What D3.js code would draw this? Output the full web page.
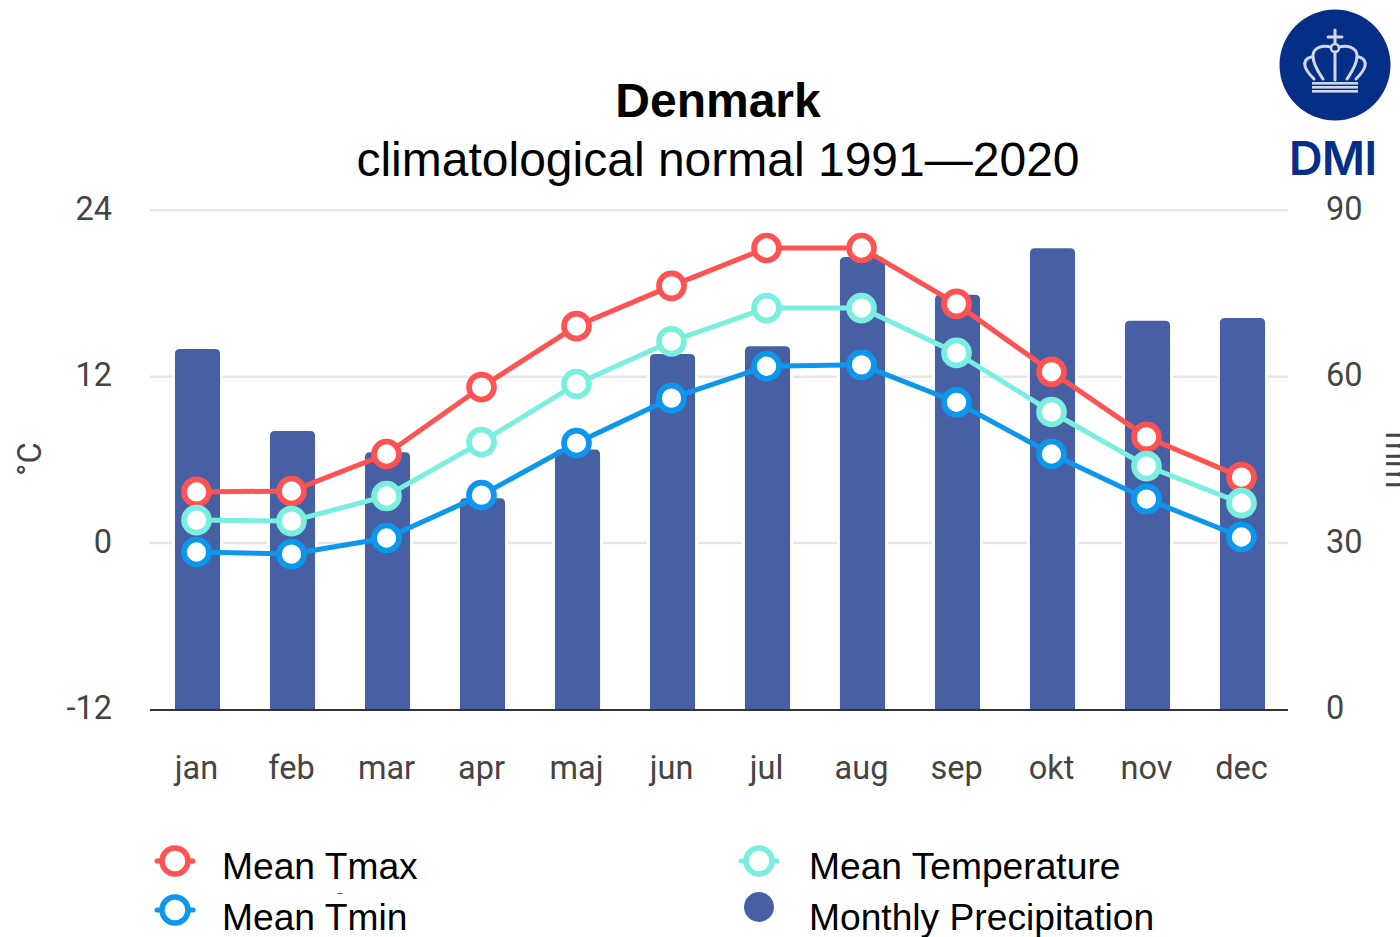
<!DOCTYPE html>
<html><head><meta charset="utf-8">
<script src="https://cdn.jsdelivr.net/npm/d3@7"></script>
<style>html,body{margin:0;padding:0;background:#fff;overflow:hidden}svg{display:block}</style>
</head><body><svg id="c" width="1400" height="937"></svg>
<script>
const months=["jan","feb","mar","apr","maj","jun","jul","aug","sep","okt","nov","dec"];
const precipitation=[65.1,50.3,46.5,38.2,47,64.2,65.6,81.7,74.9,83.3,70.2,70.7];
const tmax=[3.73,3.8,6.47,11.3,15.7,18.6,21.33,21.33,17.3,12.4,7.7,4.8];
const tmean=[1.7,1.63,3.44,7.33,11.52,14.6,17.0,17.0,13.76,9.5,5.6,2.93];
const tmin=[-0.6,-0.75,0.41,3.5,7.26,10.5,12.8,12.9,10.2,6.47,3.22,0.48];
const tempTicks=[-12,0,12,24];
const precipTicks=[0,30,60,90];
const colors={tmax:"#ff5252",tmean:"#7aefe0",tmin:"#0d97ec",precip:"#4760a3",logo:"#052f87"};

const svg=d3.select("#c");
const L=150,R=1288,T=211,B=710;
const x=d3.scaleBand().domain(months).range([L,R+2]).paddingInner(0.525).paddingOuter(0.2625);
const yT=d3.scaleLinear().domain([-12,24]).range([B,T]);
const yP=d3.scaleLinear().domain([0,90]).range([B,T]);
const cx=m=>x(m)+x.bandwidth()/2-1;
const tickFont="Roboto";

svg.append("g").selectAll("line").data(tempTicks.filter(d=>d>-12)).join("line")
  .attr("x1",L).attr("x2",R).attr("y1",d=>yT(d)-0.7).attr("y2",d=>yT(d)-0.7)
  .attr("stroke","#e6e6e6").attr("stroke-width",2.5);

svg.append("g").selectAll("path").data(months).join("path")
  .attr("d",(m,i)=>{const a=x(m),w=x.bandwidth(),t=yP(precipitation[i]),r=5;
    return `M${a},${B}V${t+r}Q${a},${t} ${a+r},${t}H${a+w-r}Q${a+w},${t} ${a+w},${t+r}V${B}Z`;})
  .attr("fill",colors.precip).attr("stroke","#fff").attr("stroke-width",6).attr("paint-order","stroke");

svg.append("line").attr("x1",L).attr("x2",R).attr("y1",B).attr("y2",B).attr("stroke","#333").attr("stroke-width",2);

const axL=svg.append("g").attr("transform",`translate(${112},0)`).call(d3.axisLeft(yT).tickValues(tempTicks).tickSize(0).tickPadding(0).tickFormat(d=>String(d)));
axL.select(".domain").remove();
axL.selectAll("text").attr("font-family",tickFont).attr("font-size",32.5).attr("fill","#444").attr("dy","0.26em");
const axR=svg.append("g").attr("transform",`translate(${1326},0)`).call(d3.axisRight(yP).tickValues(precipTicks).tickSize(0).tickPadding(0));
axR.select(".domain").remove();
axR.selectAll("text").attr("font-family",tickFont).attr("font-size",32.5).attr("fill","#444").attr("dy","0.26em");
const axB=svg.append("g").attr("transform",`translate(-1,${753})`).call(d3.axisBottom(x).tickSize(0).tickPadding(0));
axB.select(".domain").remove();
axB.selectAll("text").attr("font-family",tickFont).attr("font-size",32.5).attr("fill","#444").attr("dy","0.8em");

svg.append("text").attr("transform","translate(41,459) rotate(-90)").attr("text-anchor","middle")
  .attr("font-family",tickFont).attr("font-size",32.5).attr("fill","#444").text("°C");
svg.append("text").attr("transform","translate(1386,460) rotate(90)").attr("text-anchor","middle")
  .attr("font-family",tickFont).attr("font-size",32.5).attr("fill","#444").text("mm");

const line=vals=>d3.line().x((d,i)=>cx(months[i])).y(d=>yT(d))(vals);
[[tmax,colors.tmax],[tmean,colors.tmean],[tmin,colors.tmin]].forEach(([vals,c])=>{
  const g=svg.append("g");
  g.append("path").attr("d",line(vals)).attr("fill","none").attr("stroke",c).attr("stroke-width",5);
  g.selectAll("circle").data(vals).join("circle")
    .attr("cx",(d,i)=>cx(months[i])).attr("cy",d=>yT(d)).attr("r",12.5)
    .attr("fill","#fff").attr("stroke",c).attr("stroke-width",5.7);
});

svg.append("text").attr("x",718).attr("y",117).attr("text-anchor","middle")
  .attr("font-family","Liberation Sans").attr("font-weight",700).attr("font-size",48).attr("fill","#000").text("Denmark");
svg.append("text").attr("x",718).attr("y",176).attr("text-anchor","middle")
  .attr("font-family","Liberation Sans").attr("font-size",48).attr("fill","#000").text("climatological normal 1991—2020");

const legendItems=[
  {label:"Mean Tmax",c:colors.tmax,mx:175,my:861,tx:222,ty:879},
  {label:"Mean Tmin",c:colors.tmin,mx:175,my:910,tx:222,ty:930},
  {label:"Mean Temperature",c:colors.tmean,mx:759,my:861,tx:809,ty:879},
  {label:"Monthly Precipitation",c:colors.precip,mx:759,my:907,tx:809,ty:930,solid:true}];
const lg=svg.append("g").selectAll("g").data(legendItems).join("g");
lg.filter(d=>!d.solid).append("line").attr("x1",d=>d.mx-18).attr("x2",d=>d.mx+18).attr("y1",d=>d.my).attr("y2",d=>d.my).attr("stroke",d=>d.c).attr("stroke-width",5).attr("stroke-linecap","round");
lg.append("circle").attr("cx",d=>d.mx).attr("cy",d=>d.my).attr("r",d=>d.solid?15:13)
  .attr("fill",d=>d.solid?d.c:"#fff").attr("stroke",d=>d.solid?"none":d.c).attr("stroke-width",5.5);
lg.append("text").attr("x",d=>d.tx).attr("y",d=>d.ty).attr("font-family","Liberation Sans").attr("font-size",37.2).attr("fill","#000").text(d=>d.label);
svg.append("rect").attr("x",337).attr("y",893).attr("width",6).attr("height",1).attr("fill","#777");

const logo=svg.append("g").attr("transform","translate(1335,65)");
logo.append("circle").attr("r",55.5).attr("fill",colors.logo);
const crown=logo.append("g").attr("fill","none").attr("stroke","#cfd8ea").attr("stroke-width",3).attr("stroke-linecap","round");
crown.append("path").attr("d","M0,-35V-22M-7,-28H7");
crown.append("circle").attr("cy",-17).attr("r",4).attr("stroke-width",2.4);
crown.append("path").attr("d","M0,-13V15");
crown.append("path").attr("d","M-4,-18C-12,-20 -22,-18 -22,-9C-22,0 -16,8 -12,14");
crown.append("path").attr("d","M4,-18C12,-20 22,-18 22,-9C22,0 16,8 12,14");
crown.append("path").attr("d","M-24,-8C-29,-7 -31,-3 -30,1C-29,6 -25,10 -21,14");
crown.append("path").attr("d","M24,-8C29,-7 31,-3 30,1C29,6 25,10 21,14");
logo.append("g").selectAll("rect").data([17,21,25]).join("rect").attr("x",-23).attr("width",46).attr("y",d=>d).attr("height",2.6).attr("fill","#cfd8ea");
svg.append("text").attr("x",1332.5).attr("y",175).attr("text-anchor","middle").attr("font-family","Inter").attr("font-weight",600).attr("font-size",47).attr("fill",colors.logo).attr("letter-spacing",-1).text("DMI");
</script></body></html>
